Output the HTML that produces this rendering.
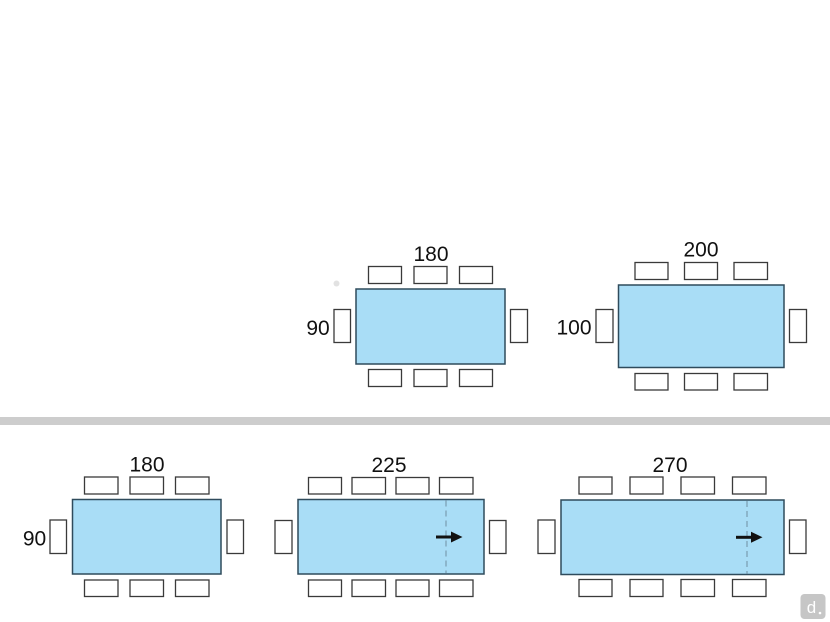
<!DOCTYPE html>
<html>
<head>
<meta charset="utf-8">
<style>
  html, body { margin: 0; padding: 0; background: #ffffff; }
  body { width: 830px; height: 622px; overflow: hidden; }
  svg { display: block; }
  text { font-family: "Liberation Sans", Arial, sans-serif; font-size: 21px; fill: #111; }
</style>
</head>
<body>
<svg width="830" height="622" viewBox="0 0 830 622" xmlns="http://www.w3.org/2000/svg">
  <rect x="0" y="0" width="830" height="622" fill="#ffffff"/>

  <!-- separator bar -->
  <rect x="0" y="417" width="830" height="8" fill="#cdcdcd"/>

  <g fill="#ffffff" stroke="#3a3a3a" stroke-width="1.3">
    <!-- ===== Top table 1 (180 x 90) ===== -->
    <rect x="368.5" y="266.5" width="33" height="17"/>
    <rect x="414" y="266.5" width="33" height="17"/>
    <rect x="459.5" y="266.5" width="33" height="17"/>
    <rect x="368.5" y="369.5" width="33" height="17"/>
    <rect x="414" y="369.5" width="33" height="17"/>
    <rect x="459.5" y="369.5" width="33" height="17"/>
    <rect x="334" y="309.5" width="16.5" height="33"/>
    <rect x="510.5" y="309.5" width="17" height="33"/>

    <!-- ===== Top table 2 (200 x 100) ===== -->
    <rect x="635" y="262.5" width="33" height="17"/>
    <rect x="684.5" y="262.5" width="33" height="17"/>
    <rect x="734" y="262.5" width="33.5" height="17"/>
    <rect x="635" y="373.5" width="33" height="16.5"/>
    <rect x="684.5" y="373.5" width="33" height="16.5"/>
    <rect x="734" y="373.5" width="33.5" height="16.5"/>
    <rect x="596" y="309.5" width="17" height="33"/>
    <rect x="789.5" y="309.5" width="17" height="33"/>

    <!-- ===== Bottom table 1 (180 x 90) ===== -->
    <rect x="84.5" y="477" width="33.5" height="17"/>
    <rect x="130" y="477" width="33.5" height="17"/>
    <rect x="175.5" y="477" width="33.5" height="17"/>
    <rect x="84.5" y="580" width="33.5" height="16.5"/>
    <rect x="130" y="580" width="33.5" height="16.5"/>
    <rect x="175.5" y="580" width="33.5" height="16.5"/>
    <rect x="50" y="520" width="16.5" height="33.5"/>
    <rect x="227" y="520" width="16.5" height="33.5"/>

    <!-- ===== Bottom table 2 (225) ===== -->
    <rect x="308.5" y="477.5" width="33" height="16.5"/>
    <rect x="352" y="477.5" width="33.5" height="16.5"/>
    <rect x="396" y="477.5" width="33" height="16.5"/>
    <rect x="439.5" y="477.5" width="33.5" height="16.5"/>
    <rect x="308.5" y="580" width="33" height="16.5"/>
    <rect x="352" y="580" width="33.5" height="16.5"/>
    <rect x="396" y="580" width="33" height="16.5"/>
    <rect x="439.5" y="580" width="33.5" height="16.5"/>
    <rect x="275" y="520.5" width="17" height="33"/>
    <rect x="489.5" y="520.5" width="16.5" height="33"/>

    <!-- ===== Bottom table 3 (270) ===== -->
    <rect x="579" y="477" width="33" height="17"/>
    <rect x="630" y="477" width="33" height="17"/>
    <rect x="681" y="477" width="33.5" height="17"/>
    <rect x="732.5" y="477" width="33.5" height="17"/>
    <rect x="579" y="579.5" width="33" height="17"/>
    <rect x="630" y="579.5" width="33" height="17"/>
    <rect x="681" y="579.5" width="33.5" height="17"/>
    <rect x="732.5" y="579.5" width="33.5" height="17"/>
    <rect x="538" y="520" width="17" height="33.5"/>
    <rect x="789.5" y="520" width="16.5" height="33.5"/>
  </g>

  <!-- tables -->
  <g fill="#a9ddf6" stroke="#2f4b5c" stroke-width="1.5">
    <rect x="356" y="289" width="149" height="75"/>
    <rect x="618.5" y="285" width="165.5" height="82.5"/>
    <rect x="72.5" y="499.5" width="148.5" height="74.5"/>
    <rect x="298" y="499.5" width="186" height="74.5"/>
    <rect x="561" y="500" width="223" height="74.5"/>
  </g>

  <!-- dashed extension lines -->
  <g stroke="#6f8ea3" stroke-width="1" stroke-dasharray="6,4">
    <line x1="446" y1="500.5" x2="446" y2="573.5"/>
    <line x1="747" y1="501" x2="747" y2="574"/>
  </g>

  <!-- arrows -->
  <g fill="#111" stroke="none">
    <rect x="436" y="535.5" width="16" height="3"/>
    <polygon points="451,531.5 462.5,537 451,542.5"/>
    <rect x="736" y="535.8" width="16" height="3"/>
    <polygon points="751,531.8 762.5,537.3 751,542.8"/>
  </g>

  <!-- faint dot -->
  <circle cx="336.5" cy="283.5" r="3" fill="#e2e2e2"/>

  <!-- labels -->
  <text x="431" y="261" text-anchor="middle">180</text>
  <text x="318" y="335" text-anchor="middle">90</text>
  <text x="701" y="256.5" text-anchor="middle">200</text>
  <text x="574" y="334.5" text-anchor="middle">100</text>
  <text x="147" y="471.5" text-anchor="middle">180</text>
  <text x="34.5" y="545.5" text-anchor="middle">90</text>
  <text x="389" y="472" text-anchor="middle">225</text>
  <text x="670" y="472" text-anchor="middle">270</text>

  <!-- logo -->
  <rect x="800.5" y="594" width="25" height="25" rx="4" ry="4" fill="#c6c6c6"/>
  <text x="811.5" y="613" text-anchor="middle" style="font-size:17px; fill:#ffffff;">d</text>
  <circle cx="820" cy="613" r="1.3" fill="#ffffff"/>
</svg>
</body>
</html>
